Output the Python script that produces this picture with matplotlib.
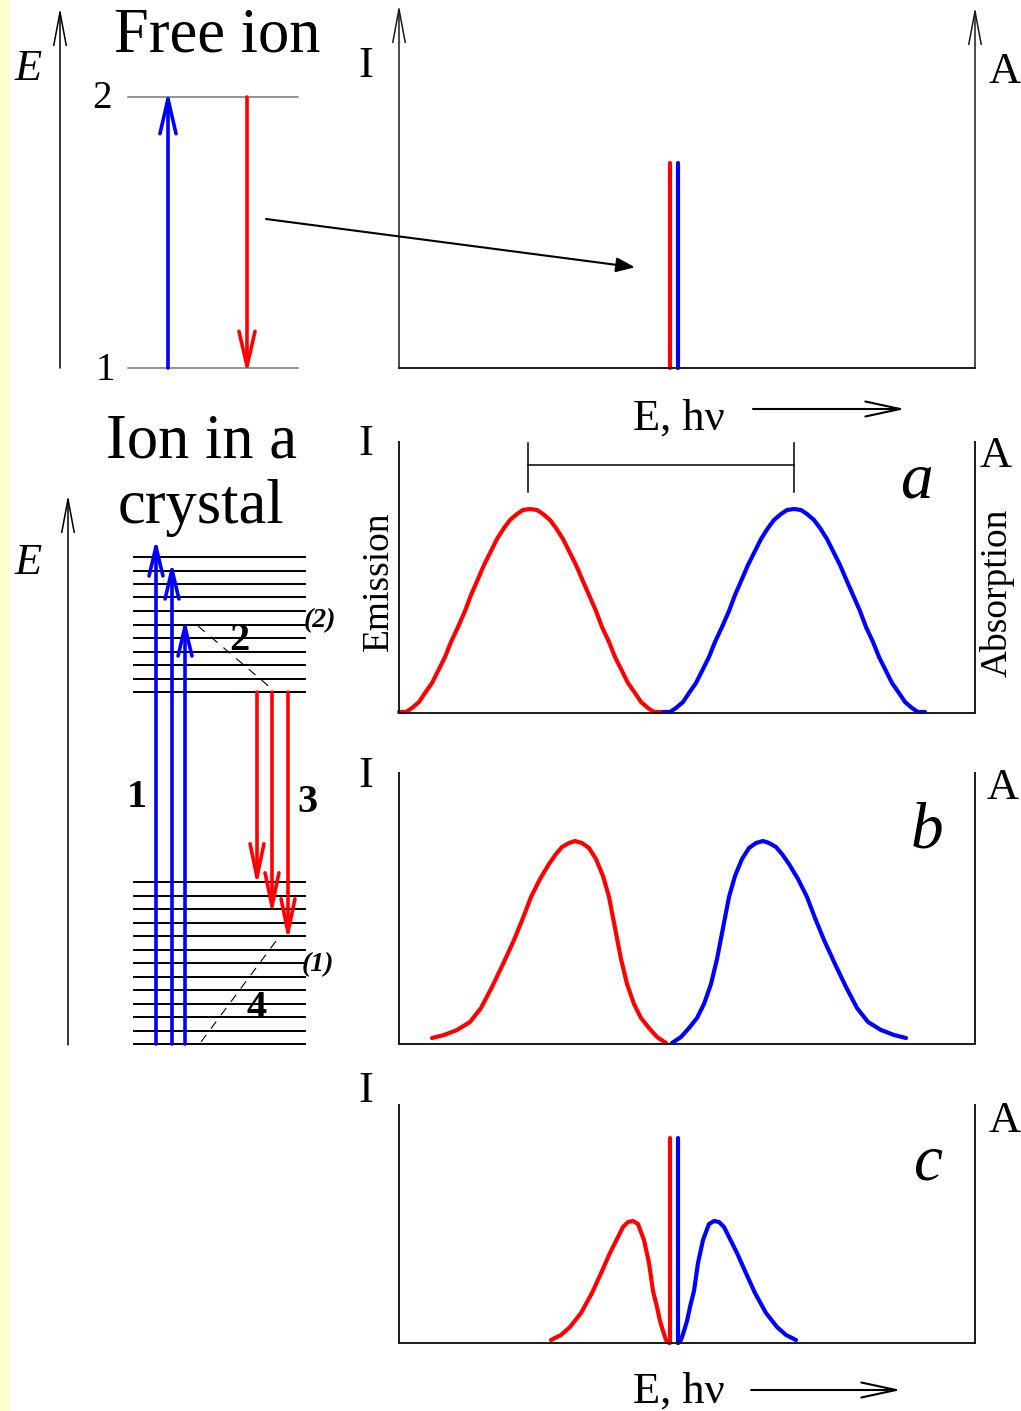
import matplotlib.pyplot as plt
from matplotlib.patches import Rectangle

W, H = 1021, 1411
SERIF = "Liberation Serif"
RED, BLUE = "#ff0000", "#0000ff"

# ---- left diagrams (energy rows, in px) ----
free_levels = [97, 368]
upper_band = [557, 571, 584, 597, 611, 625, 638, 652, 665, 679, 692]
lower_band = [882, 896, 909, 923, 936, 950, 963, 977, 990, 1004, 1017, 1031, 1044]
absorb_x = [156, 172, 185]
absorb_top = [545, 568, 625]
emit_x = [257, 272, 288]
emit_bottom = [880, 909, 935]

# ---- spectra: energy = offset from panel origin, intensity = height above baseline ----
red_a_E = [0, 7, 13, 20, 26, 33, 39, 46, 52, 59, 66, 72, 79, 85, 92, 98, 105, 111, 118, 124, 131,
           138, 144, 151, 157, 164, 170, 177, 183, 190, 197, 203, 210, 216, 223, 229, 236, 242, 249, 255, 262]
red_a_I = [1, 1, 5, 11, 20, 30, 42, 56, 71, 86, 102, 118, 134, 148, 162, 174, 185, 193, 199, 203, 204,
           203, 199, 193, 185, 174, 162, 148, 134, 118, 102, 86, 71, 56, 42, 30, 20, 11, 5, 1, 1]
blue_a_E = [264, 271, 277, 284, 290, 297, 303, 310, 316, 323, 330, 336, 343, 349, 356, 362, 369, 375, 382, 388, 395,
            402, 408, 415, 421, 428, 434, 441, 447, 454, 461, 467, 474, 480, 487, 493, 500, 506, 513, 519, 526]
blue_a_I = [1, 1, 5, 11, 20, 30, 42, 56, 71, 86, 102, 118, 134, 148, 162, 174, 185, 193, 199, 203, 204,
            203, 199, 193, 185, 174, 162, 148, 134, 118, 102, 86, 71, 56, 42, 30, 20, 11, 5, 1, 1]

red_b_E = [33, 45, 58, 71, 82, 93, 104, 115, 124, 132, 141, 150, 157, 163, 170, 176, 183, 190, 197, 204,
           210, 216, 222, 228, 235, 242, 250, 258, 267]
red_b_I = [6, 9, 14, 22, 36, 57, 80, 104, 126, 147, 165, 180, 190, 197, 201, 203, 201, 196, 185, 168,
           147, 116, 85, 60, 40, 26, 16, 7, 1]
blue_b_E = [273, 282, 290, 298, 305, 312, 318, 324, 330, 336, 343, 350, 357, 364, 370, 377, 383, 390, 399,
            408, 416, 425, 436, 447, 458, 469, 482, 495, 507]
blue_b_I = [1, 7, 16, 26, 40, 60, 85, 116, 147, 168, 185, 196, 201, 203, 201, 197, 190, 180, 165,
            147, 126, 104, 80, 57, 36, 22, 14, 9, 6]

red_c_E = [152, 162, 171, 182, 193, 203, 211, 218, 224, 229, 234, 239, 245, 250, 254, 258, 261, 264, 267, 270]
red_c_I = [3, 8, 16, 30, 50, 72, 90, 104, 116, 121, 122, 119, 103, 80, 52, 36, 22, 12, 3, 0]
blue_c_E = [279, 282, 285, 288, 291, 295, 299, 304, 310, 315, 320, 325, 331, 338, 346, 356, 367, 378, 387, 397]
blue_c_I = [0, 3, 12, 22, 36, 52, 80, 103, 119, 122, 121, 116, 104, 90, 72, 50, 30, 16, 8, 3]

# zero-phonon lines (energy, height)
zpl_E = [270.6, 279]
zpl_I = 205

fig = plt.figure(figsize=(W / 100, H / 100), dpi=100)


def panel(top, base):
    ax = fig.add_axes([399 / W, 1 - base / H, 576 / W, (base - top) / H])
    ax.set_xlim(0, 576)
    ax.set_ylim(0, base - top)
    ax.patch.set_alpha(0)
    ax.set_xticks([])
    ax.set_yticks([])
    ax.spines["top"].set_visible(False)
    for s in ["left", "right", "bottom"]:
        ax.spines[s].set_linewidth(1.4)
        ax.spines[s].set_color("#1a1a1a")
    return ax


def curve(ax, E, I, color):
    ax.plot(E, I, color=color, lw=3, clip_on=False,
            solid_capstyle="round", solid_joinstyle="round")


# top panel: free-ion sharp lines
ax0 = panel(8, 368)
ax0.spines["left"].set_visible(False)
ax0.spines["right"].set_visible(False)
for x, c in zip(zpl_E, [RED, BLUE]):
    ax0.plot([x, x], [0, zpl_I], color=c, lw=3, clip_on=False, solid_capstyle="round")
for x, tip in [(0, 363), (576, 361)]:
    ax0.annotate("", xy=(x, tip), xytext=(x, 0),
                 arrowprops=dict(arrowstyle="->,head_length=24,head_width=4.5", lw=1.1,
                                 color="#1a1a1a", shrinkA=0, shrinkB=0, mutation_scale=1),
                 annotation_clip=False)

# panel a
axa = panel(442, 713)
curve(axa, red_a_E, red_a_I, RED)
curve(axa, blue_a_E, blue_a_I, BLUE)
axa.plot([129, 395], [248, 248], color="k", lw=1.1, clip_on=False)
for x in [129, 395]:
    axa.plot([x, x], [221, 270], color="k", lw=1.1, clip_on=False)

# panel b
axb = panel(773, 1044)
curve(axb, red_b_E, red_b_I, RED)
curve(axb, blue_b_E, blue_b_I, BLUE)

# panel c
axc = panel(1105, 1343)
curve(axc, red_c_E, red_c_I, RED)
curve(axc, blue_c_E, blue_c_I, BLUE)
for x, c in zip(zpl_E, [RED, BLUE]):
    axc.plot([x, x], [0, zpl_I], color=c, lw=3, clip_on=False, solid_capstyle="round")

# overlay for diagrams and labels (pixel coordinates)
ov = fig.add_axes([0, 0, 1, 1])
ov.set_xlim(0, W)
ov.set_ylim(H, 0)
ov.axis("off")
ov.add_patch(Rectangle((0, 0), 10, H, color="#ffffcc", lw=0))


def arrow(x0, y0, x1, y1, color="k", lw=1.1, hl=24, hw=4.5, style="->"):
    ov.annotate("", xy=(x1, y1), xytext=(x0, y0),
                arrowprops=dict(arrowstyle=f"{style},head_length={hl},head_width={hw}",
                                color=color, lw=lw, shrinkA=0, shrinkB=0, mutation_scale=1))


def txt(x, y, s, size, **kw):
    ov.text(x, y, s, fontsize=size, family=SERIF, ha="center", va="baseline", **kw)


# free ion (arrow ends pushed ~6 px past the levels: the open head sits back by the line width)
arrow(60, 368, 60, 8)
for y in free_levels:
    ov.plot([128, 298], [y, y], color="#777777", lw=1.1)
arrow(168, free_levels[1], 168, free_levels[0] - 6, BLUE, 2.6, 25, 5.8)
arrow(247, free_levels[0], 247, free_levels[1] + 6, RED, 2.6, 25, 5.8)
arrow(266, 219, 635, 267.3, "k", 1.5, 11.5, 4.5, "-|>")
txt(217, 52, "Free ion", 45)
txt(28, 80, "E", 32, style="italic")
txt(102, 108, "2", 28)
txt(105, 380, "1", 28)

# ion in a crystal
arrow(68, 1045, 68, 495)
for y in upper_band + lower_band:
    ov.plot([134, 305], [y, y], color="k", lw=1.4)
for x, t in zip(absorb_x, absorb_top):
    arrow(x, 1044, x, t - 6, BLUE, 2.6, 21, 5)
for x, b in zip(emit_x, emit_bottom):
    arrow(x, upper_band[-1], x, b + 6, RED, 2.6, 24, 5)
ov.plot([198, 272], [626, 689], color="k", lw=0.8, ls=(0, (8, 7)))
ov.plot([201, 279], [1042, 937], color="k", lw=0.8, ls=(0, (8, 7)))
txt(201, 457, "Ion in a", 45)
txt(201, 523, "crystal", 45)
txt(28, 574, "E", 32, style="italic")
txt(239, 650, "2", 29, weight="bold")
txt(137, 807, "1", 29, weight="bold")
txt(307, 812, "3", 29, weight="bold")
txt(257, 1018, "4", 29, weight="bold")
txt(320, 627, "(2)", 20, weight="bold", style="italic")
txt(318, 971, "(1)", 20, weight="bold", style="italic")

# spectra labels
txt(366, 77, "I", 32)
txt(1005, 83, "A", 32)
txt(679, 430, "E, h\u03bd", 32)
arrow(753, 409, 905, 409, "k", 1.5, 25, 5.4)

txt(366, 455, "I", 32)
txt(996, 467, "A", 32)
txt(916, 497, "a", 47, style="italic")
ov.text(388, 581, "Emission", fontsize=27, family=SERIF, rotation=90,
        rotation_mode="anchor", ha="center", va="baseline")
ov.text(1007, 593, "Absorption", fontsize=27, family=SERIF, rotation=90,
        rotation_mode="anchor", ha="center", va="baseline")

txt(366, 787, "I", 32)
txt(1003, 799, "A", 32)
txt(927, 847, "b", 47, style="italic")

txt(366, 1102, "I", 32)
txt(1005, 1132, "A", 32)
txt(928, 1180, "c", 47, style="italic")
txt(679, 1403, "E, h\u03bd", 32)
arrow(751, 1390, 901, 1390, "k", 1.5, 25, 5.4)

fig.savefig("out.png", dpi=100)
